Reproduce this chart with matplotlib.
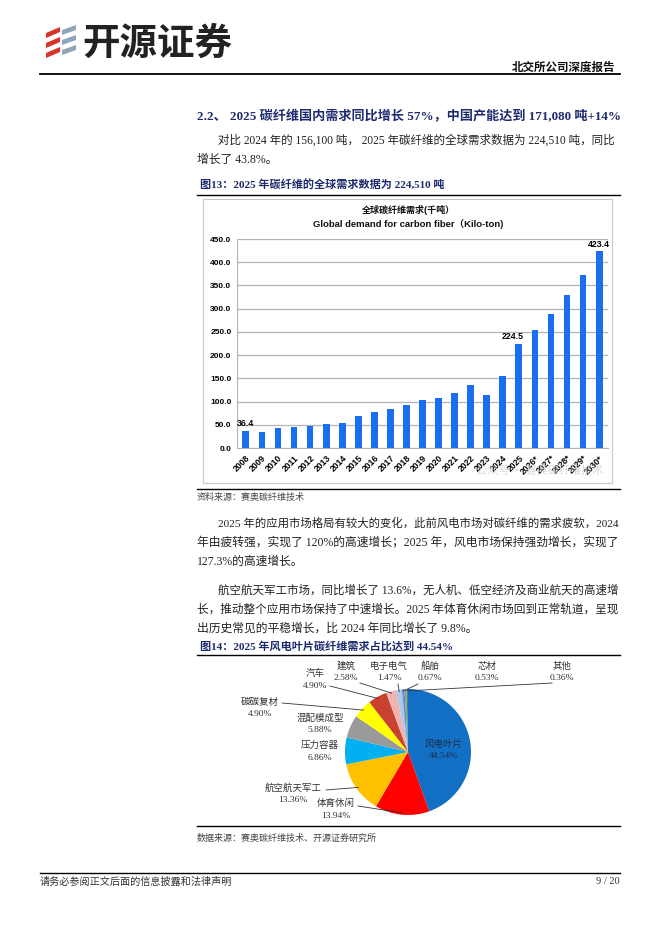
import matplotlib
matplotlib.use("Agg")
import matplotlib.pyplot as plt
from matplotlib.patches import Polygon, Rectangle
import numpy as np

plt.rcParams['font.family'] = ['Liberation Serif', 'Noto Sans CJK SC', 'DejaVu Sans']

# ---- data ----
years = ['2008', '2009', '2010', '2011', '2012', '2013', '2014', '2015', '2016', '2017',
         '2018', '2019', '2020', '2021', '2022', '2023', '2024', '2025',
         '2026*', '2027*', '2028*', '2029*', '2030*']
demand = [36.4, 35.5, 43, 45, 47, 51, 54, 69, 77, 85, 93, 104, 107, 118, 135, 115,
          156.1, 224.5, 255, 289, 329, 373, 423.4]
labelled = {'2008': 36.4, '2025': 224.5, '2030*': 423.4}

pie_names = ['风电叶片', '体育休闲', '航空航天军工', '压力容器', '混配模成型', '碳碳复材',
             '汽车', '建筑', '电子电气', '船舶', '芯材', '其他']
pie_share = [44.54, 13.94, 13.36, 6.86, 5.88, 4.90, 4.90, 2.58, 1.47, 0.67, 0.53, 0.36]
pie_colors = ['#1170c4', '#fe0000', '#ffc000', '#00b0f0', '#9a9a9a', '#ffff00',
              '#c9412f', '#f0b4b0', '#a9c8ea', '#5b8fd0', '#8a9aa8', '#4f8f5a']

W, H = 662, 936
fig = plt.figure(figsize=(W / 100, H / 100), dpi=100)
renderer = fig.canvas.get_renderer()

# page layer in pixel coordinates (drawn on top of the chart axes)
bg = fig.add_axes([0, 0, 1, 1])
bg.set_xlim(0, W)
bg.set_ylim(H, 0)
bg.axis('off')
bg.set_zorder(10)

navy = '#1d2b6e'
txt = '#222222'
CJK = ['Liberation Serif', 'Noto Sans CJK SC', 'DejaVu Sans']
SANS = ['Liberation Sans', 'Noto Sans CJK SC', 'DejaVu Sans']


def fit_line(t, right):
    # scale the font so a justified line ends at the right margin
    for _ in range(3):
        bb = t.get_window_extent(renderer)
        t.set_fontsize(t.get_fontsize() * (right - bb.x0) / (bb.x1 - bb.x0))


# logo
for i in range(3):
    y0 = 27 + i * 10
    bg.add_patch(Polygon([[46, y0 + 6], [60, y0], [60, y0 + 5], [46, y0 + 11]], closed=True,
                         color='#d8352a', lw=0))
    bg.add_patch(Polygon([[62, y0 + 3], [76, y0 - 2], [76, y0 + 3], [62, y0 + 8]], closed=True,
                         color='#8fa6b8', lw=0))
bg.text(82, 43, '开源证券', fontsize=27, fontweight='bold', color='#222222',
        family=['Noto Sans CJK SC'], va='center', ha='left')
bg.text(615, 67, '北交所公司深度报告', fontsize=8.3, fontweight='bold', color='#111111',
        family=['Noto Sans CJK SC'], va='center', ha='right')
bg.plot([40, 620], [73.5, 73.5], color='black', lw=1.3)

# section heading and paragraphs
t = bg.text(197, 117, '2.2、 2025 碳纤维国内需求同比增长 57%，中国产能达到 171,080 吨+14%',
            fontsize=9, fontweight='bold', color=navy, family=CJK, va='center')
fit_line(t, 618)

paras = [
    (218, 141, '对比 2024 年的 156,100 吨， 2025 年碳纤维的全球需求数据为 224,510 吨，同比', True),
    (197, 160, '增长了 43.8%。', False),
    (218, 523, '2025 年的应用市场格局有较大的变化，此前风电市场对碳纤维的需求疲软，2024', True),
    (197, 542, '年由疲转强，实现了 120%的高速增长；2025 年，风电市场保持强劲增长，实现了', True),
    (197, 562, '127.3%的高速增长。', False),
    (218, 591, '航空航天军工市场，同比增长了 13.6%，无人机、低空经济及商业航天的高速增', True),
    (197, 610, '长，推动整个应用市场保持了中速增长。2025 年体育休闲市场回到正常轨道，呈现', True),
    (197, 629, '出历史常见的平稳增长，比 2024 年同比增长了 9.8%。', False),
]
for x, y, s, full in paras:
    t = bg.text(x, y, s, fontsize=8.5, color=txt, family=CJK, va='center')
    if full:
        fit_line(t, 618)

bg.text(200, 185, '图13：2025 年碳纤维的全球需求数据为 224,510 吨', fontsize=8,
        fontweight='bold', color=navy, family=CJK, va='center')
bg.plot([197, 620], [194.5, 194.5], color='black', lw=1)
bg.add_patch(Rectangle((203, 199), 409, 284, fill=False, edgecolor='#c8c8c8', lw=0.8))
bg.text(408, 210, '全球碳纤维需求(千吨）', fontsize=6.5, fontweight='bold', color='#111111',
        family=SANS, ha='center', va='center')
bg.text(408, 224, 'Global demand for carbon fiber（Kilo-ton)', fontsize=6.8, fontweight='bold',
        color='#111111', family=SANS, ha='center', va='center')
bg.text(540, 471, '公众号 · 赛奥碳纤维技术', fontsize=8, color='#c8c8c8', alpha=0.7,
        family=['Noto Sans CJK SC'], ha='center', va='center')

bg.plot([197, 620], [489, 489], color='black', lw=1)
bg.text(197, 497, '资料来源：赛奥碳纤维技术', fontsize=6.5, color='#444444', family=CJK, va='center')

bg.text(200, 646, '图14：2025 年风电叶片碳纤维需求占比达到 44.54%', fontsize=8,
        fontweight='bold', color=navy, family=CJK, va='center')
bg.plot([197, 620], [654.5, 654.5], color='black', lw=1)
bg.plot([197, 620], [826, 826], color='black', lw=1)
bg.text(197, 838, '数据来源：赛奥碳纤维技术、开源证券研究所', fontsize=6.5, color='#444444',
        family=CJK, va='center')

bg.plot([40, 620], [873, 873], color='black', lw=1)
bg.text(40, 882, '请务必参阅正文后面的信息披露和法律声明', fontsize=7.3, color='#333333',
        family=CJK, va='center')
bg.text(620, 882, '9 / 20', fontsize=7.5, color='#333333', family=CJK, va='center', ha='right')


# ---- bar chart ----
def frac(x0, y0, x1, y1):
    return [x0 / W, 1 - y1 / H, (x1 - x0) / W, (y1 - y0) / H]


ax = fig.add_axes(frac(237, 239, 608, 448))
ax.patch.set_alpha(0)
x = np.arange(len(years))
ax.bar(x, demand, width=0.42, color='#1a6ff0', zorder=3)
ax.set_xlim(-0.55, len(years) - 0.45)
ax.set_ylim(0, 450)
ax.set_yticks(np.arange(0, 451, 50))
ax.set_yticklabels(['%.1f' % v for v in np.arange(0, 451, 50)], fontsize=6,
                   fontweight='bold', family=SANS)
ax.set_xticks(x)
ax.set_xticklabels(years, rotation=45, ha='right', rotation_mode='anchor', fontsize=6.2,
                   fontweight='bold', family=SANS)
ax.tick_params(length=0, pad=4)
ax.grid(axis='y', color='#b4b4b4', lw=0.9, zorder=0)
for s in ['top', 'right']:
    ax.spines[s].set_visible(False)
ax.spines['left'].set_color('#b4b4b4')
ax.spines['bottom'].set_color('#b4b4b4')
for i, yr in enumerate(years):
    if yr in labelled:
        off = -0.35 if yr == '2025' else 0
        ax.text(i + off, demand[i] + 6, '%.1f' % labelled[yr], fontsize=6.3, fontweight='bold',
                family=SANS, ha='center', va='bottom', clip_on=False, zorder=4)

# ---- pie ----
cx, cy, r = 408, 752, 63
pax = fig.add_axes(frac(cx - r, cy - r, cx + r, cy + r))
wedges, _ = pax.pie(pie_share, colors=pie_colors, startangle=90, counterclock=False, radius=1,
                    wedgeprops=dict(linewidth=0))
pax.set_xlim(-1, 1)
pax.set_ylim(-1, 1)
pax.axis('off')

lab_pos = {
    '风电叶片': (444, 750, False),
    '体育休闲': (336, 809, True),
    '航空航天军工': (293, 794, True),
    '压力容器': (320, 751, False),
    '混配模成型': (320, 724, False),
    '碳碳复材': (260, 708, True),
    '汽车': (315, 679, True),
    '建筑': (346, 672, True),
    '电子电气': (389, 672, True),
    '船舶': (430, 672, True),
    '芯材': (487, 672, False),
    '其他': (562, 672, True),
}
line_start = {
    '体育休闲': (358, 806),
    '航空航天军工': (326, 790),
    '碳碳复材': (282, 703),
    '汽车': (330, 686),
    '建筑': (360, 683),
    '电子电气': (398, 684),
    '船舶': (418, 684),
    '其他': (552, 683),
}
for w, name, val in zip(wedges, pie_names, pie_share):
    lx, ly, lead = lab_pos[name]
    col = '#1f2d4a' if name == '风电叶片' else '#333333'
    bg.text(lx, ly - 6, name, fontsize=6.8, color=col, family=CJK, ha='center', va='center')
    bg.text(lx, ly + 6.5, '%.2f%%' % val, fontsize=6.8, color=col, family=CJK, ha='center',
            va='center')
    if lead:
        mid = np.deg2rad((w.theta1 + w.theta2) / 2)
        ex = cx + 0.97 * r * np.cos(mid)
        ey = cy - 0.97 * r * np.sin(mid)
        sx, sy = line_start[name]
        bg.plot([sx, ex], [sy, ey], color='#333333', lw=0.6)

fig.savefig('out.png', dpi=100)
